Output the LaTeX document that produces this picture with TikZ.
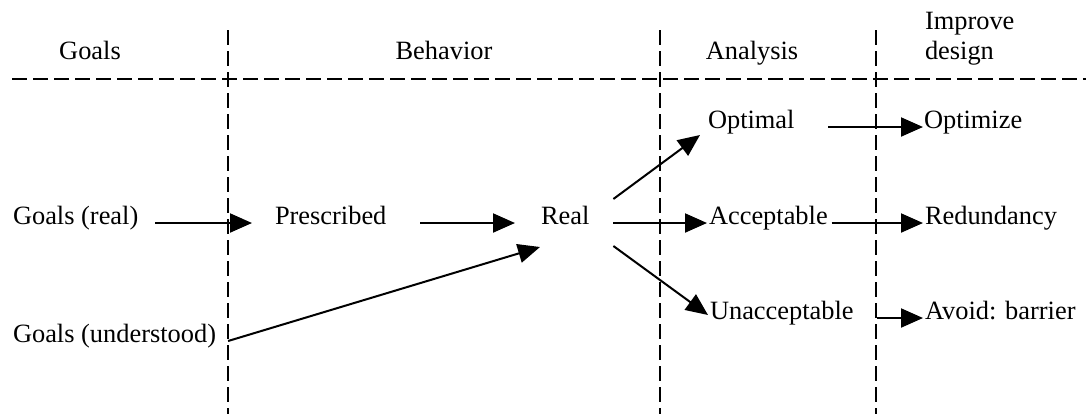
\documentclass[tikz,border=0pt]{standalone}
\usepackage{fontspec}
\setmainfont{Liberation Serif}
\usetikzlibrary{arrows.meta}
\begin{document}
\begin{tikzpicture}[x=0.5pt,y=-0.5pt,
  every node/.style={inner sep=0pt,outer sep=0pt,font=\fontsize{13.2}{15}\selectfont},
  lbl/.style={anchor=base west},
  divider/.style={line width=1pt,dash pattern=on 7.5pt off 3pt},
  flow/.style={line width=1pt,-{Triangle[length=11pt,width=9.5pt]}}]
\useasboundingbox (0,0) rectangle (1086,414);

% swimlane grid
\coordinate (hl) at (12,79);
\coordinate (hr) at (1086,79);
\draw[divider] (hl) -- (hr);
\foreach \x [count=\i] in {228,660,876}{
  \coordinate (vt\i) at (\x,30);
  \coordinate (vb\i) at (\x,414);
  \draw[divider] (vt\i) -- (vb\i);
}

% column headings
\node[anchor=base] (hgoals) at (90,59) {Goals};
\node[anchor=base] (hbeh) at (444,59) {Behavior};
\node[anchor=base] (hana) at (752,59) {Analysis};
\node[lbl,align=left] (himp) at (925,59) {Improve\\design};

% goals and behaviour
\node[lbl] (gr) at (13,224) {Goals (real)};
\node[lbl] (gu) at (13,342) {Goals (understood)};
\node[lbl] (pre) at (275,224) {Prescribed};
\node[lbl] (real) at (541,224) {Real};

% analysis outcomes
\node[lbl] (opt) at (708,128) {Optimal};
\node[lbl] (acc) at (709,224) {Acceptable};
\node[lbl] (una) at (710,319) {Unacceptable};

% design improvements
\node[lbl] (optz) at (924,128) {Optimize};
\node[lbl] (red) at (925,224) {Redundancy};
\node[lbl] (avo) at (925,319) {Avoid: barrier};

% connectors
\draw[flow] ([shift={(17,-1)}]gr.base east) -- ([shift={(-23,-1)}]pre.base west);
\draw[flow] ([shift={(34,-1)}]pre.base east) -- ([shift={(-26,-1)}]real.base west);
\draw[flow] ([shift={(12,-1)}]gu.base east) -- ([shift={(-1,23)}]real.base west);
\draw[flow] ([shift={(24,-25)}]real.base east) -- ([shift={(-8,7)}]opt.base west);
\draw[flow] ([shift={(24,-1)}]real.base east) -- ([shift={(-2,-1)}]acc.base west);
\draw[flow] ([shift={(24,22)}]real.base east) -- ([shift={(-2,-4)}]una.base west);
\draw[flow] ([shift={(-96,-1)}]optz.base west) -- ([shift={(-1,-1)}]optz.base west);
\draw[flow] ([shift={(4,-1)}]acc.base east) -- ([shift={(-2,-1)}]red.base west);
\draw[flow] ([shift={(-48,-1)}]avo.base west) -- ([shift={(-2,-1)}]avo.base west);
\end{tikzpicture}
\end{document}
